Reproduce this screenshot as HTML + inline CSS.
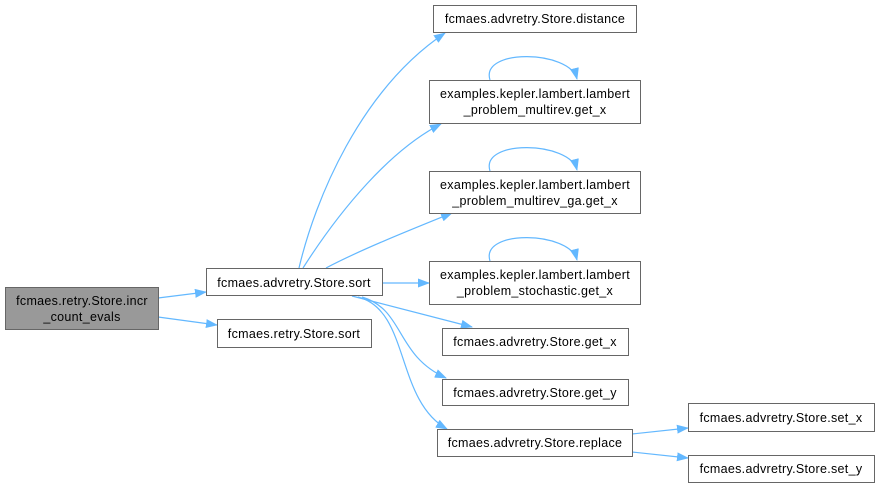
<!DOCTYPE html>
<html><head><style>html,body{margin:0;padding:0;background:#fff}</style></head><body>
<svg width="879" height="487" xmlns="http://www.w3.org/2000/svg" font-family="Liberation Sans, sans-serif" font-size="12.5" letter-spacing="0.3">
<defs><marker id="a" markerWidth="12" markerHeight="9" refX="11" refY="4.5" orient="auto" markerUnits="userSpaceOnUse"><path d="M0,0 L12,4.5 L0,9 z" fill="#63b8ff"/></marker></defs>
<g fill="none" stroke="#63b8ff" stroke-width="1.2" marker-end="url(#a)">
<path d="M158,298 L206,292"/>
<path d="M158,317 L217,325"/>
<path d="M299,268 C315,200 360,90 445,33"/>
<path d="M303,268 C340,210 390,150 441,124"/>
<path d="M326,268 C360,250 410,230 452,213"/>
<path d="M382,283 L429,283"/>
<path d="M352,296 L472,327"/>
<path d="M362,297 C405,310 395,355 446,378"/>
<path d="M358,297 C410,310 395,400 447,429"/>
<path d="M632,434 L688,428"/>
<path d="M632,452 L688,458"/>
<path d="M490,80 C480,48 570,50 577,79"/>
<path d="M490,171 C480,139 570,141 577,170"/>
<path d="M490,261 C480,229 570,231 577,260"/>
</g>
<g stroke="#666" stroke-width="1" fill="#fff">
<rect x="5.5" y="287.5" width="153" height="42" fill="#999"/>
<rect x="206.5" y="268.5" width="176" height="27"/>
<rect x="217.5" y="319.5" width="154" height="28"/>
<rect x="433.5" y="5.5" width="203" height="27"/>
<rect x="429.5" y="80.5" width="211" height="43"/>
<rect x="429.5" y="171.5" width="211" height="42"/>
<rect x="429.5" y="261.5" width="211" height="43"/>
<rect x="442.5" y="328.5" width="186" height="27"/>
<rect x="442.5" y="379.5" width="186" height="26"/>
<rect x="437.5" y="429.5" width="195" height="27"/>
<rect x="688.5" y="403.5" width="186" height="28"/>
<rect x="688.5" y="455.5" width="186" height="27"/>
</g>
<g fill="#000" text-anchor="middle">
<text x="82" y="305">fcmaes.retry.Store.incr</text>
<text x="82" y="321">_count_evals</text>
<text x="294" y="287">fcmaes.advretry.Store.sort</text>
<text x="294" y="338">fcmaes.retry.Store.sort</text>
<text x="535" y="23">fcmaes.advretry.Store.distance</text>
<text x="535" y="98">examples.kepler.lambert.lambert</text>
<text x="535" y="114">_problem_multirev.get_x</text>
<text x="535" y="189">examples.kepler.lambert.lambert</text>
<text x="535" y="205">_problem_multirev_ga.get_x</text>
<text x="535" y="279">examples.kepler.lambert.lambert</text>
<text x="535" y="295">_problem_stochastic.get_x</text>
<text x="535" y="346">fcmaes.advretry.Store.get_x</text>
<text x="535" y="397">fcmaes.advretry.Store.get_y</text>
<text x="535" y="447">fcmaes.advretry.Store.replace</text>
<text x="781" y="422">fcmaes.advretry.Store.set_x</text>
<text x="781" y="473">fcmaes.advretry.Store.set_y</text>
</g>
</svg>
</body></html>
